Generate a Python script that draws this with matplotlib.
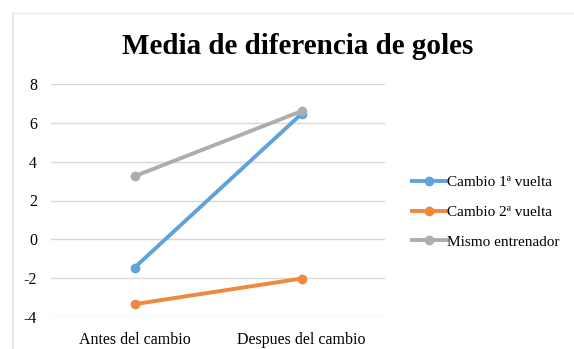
import matplotlib
matplotlib.use("Agg")
import matplotlib.pyplot as plt
from matplotlib.lines import Line2D

categories = ["Antes del cambio", "Despues del cambio"]
series_names = ["Cambio 1ª vuelta", "Cambio 2ª vuelta", "Mismo entrenador"]
cambio1 = [-1.46, 6.46]
cambio2 = [-3.34, -2.02]
mismo = [3.25, 6.6]
colors = ["#61A2DA", "#F0883E", "#ADADAD"]
yticks = [-4, -2, 0, 2, 4, 6, 8]

plt.rcParams['font.family'] = ['Liberation Serif', 'DejaVu Serif']

fig = plt.figure(figsize=(5.74, 3.49), dpi=100)
W, H = 574, 349
# partial frame of the original chart area (left and top edges only)
fig.add_artist(Line2D([12.5 / W, 12.5 / W], [0, 1 - 12.5 / H], transform=fig.transFigure,
                      color="#E3E3E3", linewidth=1.2))
fig.add_artist(Line2D([12.5 / W, 1], [1 - 12.5 / H, 1 - 12.5 / H], transform=fig.transFigure,
                      color="#EDEDED", linewidth=1))

ax = fig.add_axes([51 / W, 1 - 317 / H, 334 / W, (317 - 84) / H])

x = [0, 1]
for vals, name, c in zip([cambio1, cambio2, mismo], series_names, colors):
    ax.plot(x, vals, color=c, linewidth=2.8, marker="o", markersize=6, label=name,
            solid_capstyle="round")

ax.set_xlim(-0.5, 1.5)
ax.set_ylim(-4, 8)
ax.set_yticks(yticks)
ax.set_yticklabels([str(t) for t in yticks])
ax.set_xticks(x)
ax.set_xticklabels(categories)
ax.grid(axis="y", color="#D9D9D9", linewidth=1)
ax.set_axisbelow(True)
for s in ax.spines.values():
    s.set_visible(False)
ax.tick_params(axis="both", length=0, labelsize=11.5, colors="black")
ax.tick_params(axis="y", pad=10)
ax.tick_params(axis="x", pad=11)

fig.text(298 / W, 1 - 46 / H, "Media de diferencia de goles", ha="center", va="center",
         fontsize=21, fontweight="bold")

handles = [Line2D([0], [0], color=c, linewidth=2.8, marker="o", markersize=6) for c in colors]
fig.legend(handles, series_names, loc="center left", bbox_to_anchor=(398 / W, 1 - 212 / H),
           frameon=False, fontsize=11, handlelength=2.3, handletextpad=0.0,
           labelspacing=1.05)

fig.savefig("out.png", dpi=100)
